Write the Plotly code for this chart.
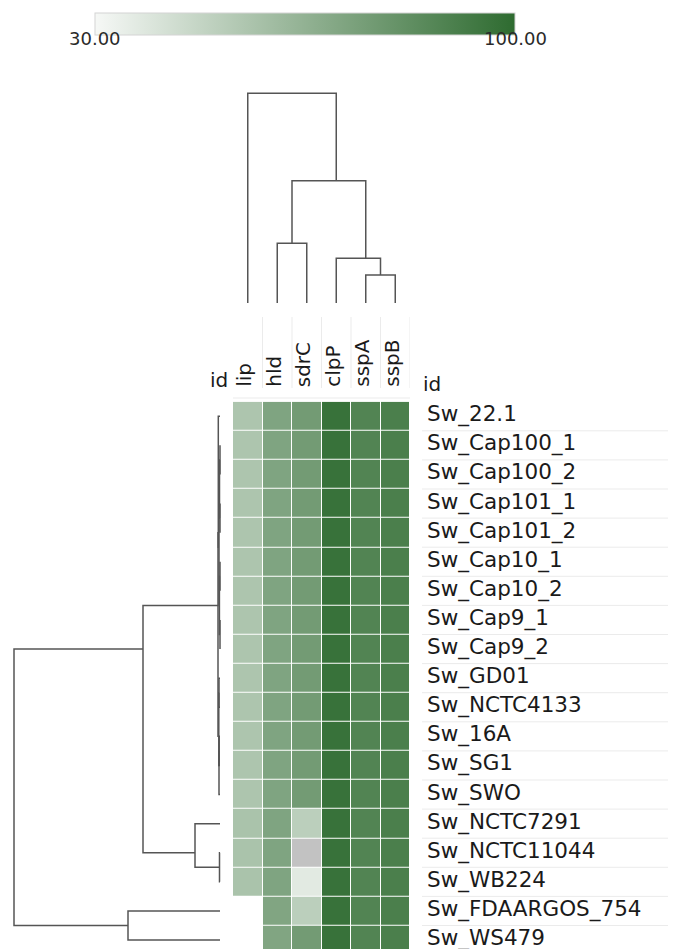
import plotly.graph_objects as go

# page body has an 8px margin; figure is laid out in window pixels
WIN_W, WIN_H = 676, 949
OFF = 8
W, H = WIN_W - OFF, WIN_H - OFF

# ---------------- data ----------------
genes = ["lip", "hld", "sdrC", "clpP", "sspA", "sspB"]
strains = ["Sw_22.1", "Sw_Cap100_1", "Sw_Cap100_2", "Sw_Cap101_1", "Sw_Cap101_2",
           "Sw_Cap10_1", "Sw_Cap10_2", "Sw_Cap9_1", "Sw_Cap9_2", "Sw_GD01",
           "Sw_NCTC4133", "Sw_16A", "Sw_SG1", "Sw_SWO", "Sw_NCTC7291",
           "Sw_NCTC11044", "Sw_WB224", "Sw_FDAARGOS_754", "Sw_WS479"]

lip  = [55.5, 55.5, 55.5, 55.5, 55.5, 55.5, 55.5, 55.5, 55.5, 55.5,
        55.5, 55.5, 55.5, 55.5, 56.5, 56.5, 56.5, None, None]
hld  = [71.5, 71.5, 71.5, 71.5, 71.5, 71.5, 71.5, 71.5, 71.5, 71.5,
        71.5, 71.5, 71.5, 71.5, 71.5, 71.5, 71.5, 71.0, 71.0]
sdrC = [76.0, 76.0, 76.0, 76.0, 76.0, 76.0, 76.0, 76.0, 76.0, 76.0,
        76.0, 76.0, 76.0, 76.0, 50.5, 22.0, 37.0, 50.5, 76.0]
clpP = [96.5, 96.5, 96.5, 96.5, 96.5, 96.5, 96.5, 96.5, 96.5, 96.5,
        96.5, 96.5, 96.5, 96.5, 96.5, 96.5, 96.5, 96.5, 96.5]
sspA = [87.5, 87.5, 87.5, 87.5, 87.5, 87.5, 87.5, 87.5, 87.5, 87.5,
        87.5, 87.5, 87.5, 87.5, 87.5, 87.5, 87.5, 87.5, 87.5]
sspB = [90.0, 90.0, 90.0, 90.0, 90.0, 90.0, 90.0, 90.0, 90.0, 90.0,
        90.0, 90.0, 90.0, 90.0, 90.0, 90.0, 90.0, 90.0, 90.0]

value_min, value_max = 30, 100

# column (gene) clustering: scipy-style linkage (new node ids start at len(genes))
col_link_left = [4, 3, 1, 8, 0]
col_link_right = [5, 6, 2, 7, 9]
col_link_height = [0.28, 0.447, 0.597, 1.223, 2.097]

# row (strain) clustering
row_link_left = [1, 3, 19, 5, 7, 22, 21, 0, 11, 27, 9, 29, 26, 15, 14, 31, 17, 34]
row_link_right = [2, 4, 20, 6, 8, 23, 24, 25, 12, 13, 10, 28, 30, 16, 32, 33, 18, 35]
row_link_height = [0.0, 0.0, 0.005, 0.0, 0.0, 0.006, 0.01, 0.017, 0.008, 0.01,
                   0.01, 0.012, 0.02, 0.005, 0.25, 0.77, 0.92, 2.06]

FONT = "DejaVu Sans"
TXT = "#1a1a1a"

# colour bar geometry (window pixels)
CB_LEFT, CB_RIGHT, CB_TOP, CB_THICK = 95, 515, 13, 22


# ---------------- helpers ----------------
def px_x(p):
    return (p - OFF) / W


def px_y(p):
    return 1 - (p - OFF) / H


def dendro(n, left, right, height):
    leaves = {i: [float(i)] for i in range(n)}
    hgt = {i: 0.0 for i in range(n)}
    pos_out, h_out = [], []
    for k, (a, b, hh) in enumerate(zip(left, right, height)):
        pa = sum(leaves[a]) / len(leaves[a])
        pb = sum(leaves[b]) / len(leaves[b])
        pos_out += [pa, pa, pb, pb, None]
        h_out += [hgt[a], hh, hh, hgt[b], None]
        leaves[n + k] = leaves[a] + leaves[b]
        hgt[n + k] = hh
    return pos_out, h_out


columns = [lip, hld, sdrC, clpP, sspA, sspB]
nrow, ncol = len(strains), len(genes)
z = [[columns[j][i] for j in range(ncol)] for i in range(nrow)]
z_low = [[(v if (v is not None and v < value_min) else None) for v in row] for row in z]
z_main = [[(v if (v is not None and v >= value_min) else None) for v in row] for row in z]

colorscale = [[0.0, "#f6f8f6"], [1.0, "#2e6b30"]]

fig = go.Figure()

fig.add_trace(go.Heatmap(
    z=z_main, x=list(range(ncol)), y=list(range(nrow)),
    zmin=value_min, zmax=value_max, colorscale=colorscale,
    xgap=1, ygap=1, hoverinfo="skip",
    colorbar=dict(
        orientation="h", x=px_x((CB_LEFT + CB_RIGHT) / 2), xanchor="center",
        y=px_y(CB_TOP), yanchor="top",
        len=CB_RIGHT - CB_LEFT, lenmode="pixels", thickness=CB_THICK, thicknessmode="pixels",
        xpad=0, ypad=0, outlinewidth=1, outlinecolor="#d4d4d4",
        tickvals=[value_min, value_max], ticks="", showticklabels=False,
    ),
))
fig.add_trace(go.Heatmap(
    z=z_low, x=list(range(ncol)), y=list(range(nrow)),
    colorscale=[[0, "#c2c2c2"], [1, "#c2c2c2"]], showscale=False,
    xgap=1, ygap=1, hoverinfo="skip",
))

# row dendrogram
rpos, rh = dendro(nrow, row_link_left, row_link_right, row_link_height)
fig.add_trace(go.Scatter(x=rh, y=rpos, xaxis="x2", yaxis="y", mode="lines",
                         line=dict(color="#555555", width=1.5), hoverinfo="skip",
                         showlegend=False))
# column dendrogram
cpos, ch = dendro(ncol, col_link_left, col_link_right, col_link_height)
fig.add_trace(go.Scatter(x=cpos, y=ch, xaxis="x", yaxis="y3", mode="lines",
                         line=dict(color="#555555", width=1.5), hoverinfo="skip",
                         showlegend=False))

ann = []
# colour bar end labels, centred on the bar ends and overlapping its lower edge
for v, xp in ((value_min, CB_LEFT), (value_max, CB_RIGHT)):
    ann.append(dict(text=f"{v:.2f}", x=px_x(xp), xref="paper", y=px_y(CB_TOP + CB_THICK + 4), yref="paper",
                    xanchor="center", yanchor="middle", showarrow=False,
                    font=dict(family=FONT, size=18, color="#2a2a2a")))
for j, g in enumerate(genes):
    ann.append(dict(text=g, x=j, xref="x", y=px_y(389), yref="paper",
                    xanchor="center", yanchor="bottom", textangle=-90, xshift=-4,
                    showarrow=False, font=dict(family=FONT, size=20, color=TXT)))
for i, s in enumerate(strains):
    ann.append(dict(text=s, x=px_x(425), xref="paper", y=i, yref="y",
                    xanchor="left", yanchor="middle", yshift=2,
                    showarrow=False, font=dict(family=FONT, size=21.5, color=TXT)))
ann.append(dict(text="id", x=px_x(219), xref="paper", y=px_y(380), yref="paper",
                xanchor="center", yanchor="middle", showarrow=False,
                font=dict(family=FONT, size=20, color=TXT)))
ann.append(dict(text="id", x=px_x(421), xref="paper", y=px_y(384), yref="paper",
                xanchor="left", yanchor="middle", showarrow=False,
                font=dict(family=FONT, size=20, color=TXT)))

shapes = []
for i in range(nrow - 1):
    shapes.append(dict(type="line", xref="paper", yref="y",
                       x0=px_x(422), x1=1, y0=i + 0.5, y1=i + 0.5,
                       line=dict(color="#ebebeb", width=1)))
for j in range(ncol):
    shapes.append(dict(type="line", xref="x", yref="paper",
                       x0=j + 0.5, x1=j + 0.5, y0=px_y(388), y1=px_y(317),
                       line=dict(color="#ebebeb", width=1)))
shapes.append(dict(type="line", xref="x", yref="paper", x0=-0.5, x1=ncol - 0.5,
                   y0=px_y(398), y1=px_y(398), line=dict(color="#ebebeb", width=1)))

fig.update_layout(
    width=W, height=H, margin=dict(l=0, r=0, t=0, b=0),
    paper_bgcolor="white", plot_bgcolor="white", showlegend=False,
    xaxis=dict(domain=[px_x(233), px_x(410)], range=[-0.5, ncol - 0.5], visible=False, anchor="y"),
    yaxis=dict(domain=[0, px_y(401.7)], range=[-0.5 + (WIN_H - 401.7) / 29.1, -0.5],
               visible=False, anchor="x"),
    xaxis2=dict(domain=[0, px_x(233)], range=[(220 - OFF) / 100, -0.13], visible=False, anchor="y"),
    yaxis3=dict(domain=[px_y(303), px_y(60)], range=[0, 2.43], visible=False, anchor="x"),
    annotations=ann, shapes=shapes,
)

fig.write_html("out.html")
